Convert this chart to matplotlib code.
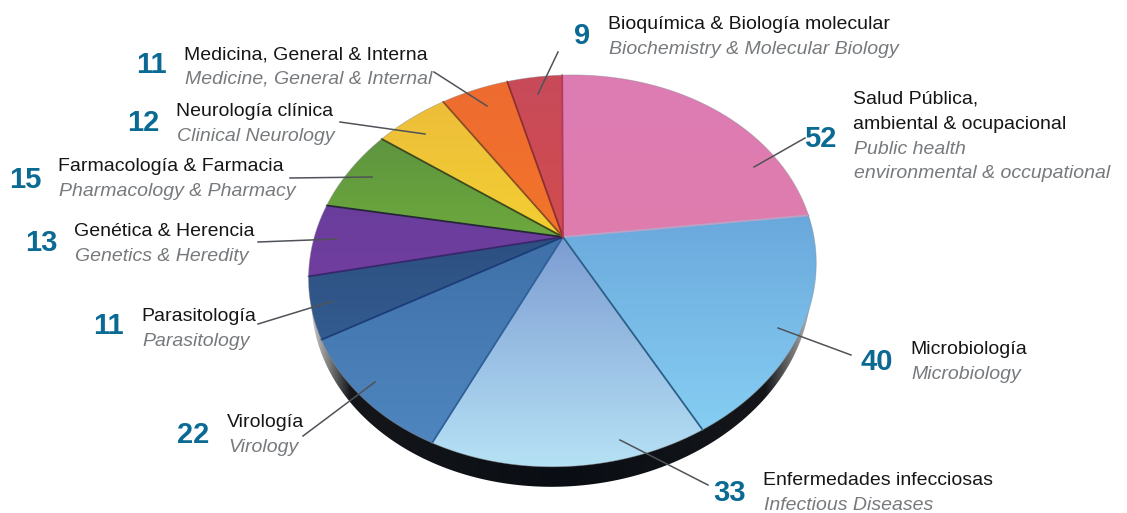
import numpy as np
import matplotlib
matplotlib.use("Agg")
import matplotlib.pyplot as plt
from matplotlib.patches import Polygon
from matplotlib.colors import LinearSegmentedColormap, to_rgb

values = [52, 40, 33, 22, 11, 13, 15, 12, 11, 9]
names_es = ["Salud Pública,\nambiental & ocupacional", "Microbiología", "Enfermedades infecciosas",
            "Virología", "Parasitología", "Genética & Herencia", "Farmacología & Farmacia",
            "Neurología clínica", "Medicina, General & Interna", "Bioquímica & Biología molecular"]
names_en = ["Public health\nenvironmental & occupational", "Microbiology", "Infectious Diseases",
            "Virology", "Parasitology", "Genetics & Heredity", "Pharmacology & Pharmacy",
            "Clinical Neurology", "Medicine, General & Internal", "Biochemistry & Molecular Biology"]
top_colors = ["#DD7DB4", "#6AA8DC", "#7C9CD2", "#3F70A8", "#2C4F80", "#6A3E9C", "#5E9440", "#EDBE3A", "#EE6B30", "#C84A5A"]
bot_colors = ["#E07CAE", "#86CEF3", "#B6E2F5", "#4F86BF", "#345C90", "#703D9E", "#6CA93C", "#F3CF32", "#F2742A", "#D14C4E"]
edge_colors = ["#B9A2C6", "#2C6088", "#2F6098", "#1B3C78", "#37286C", "#26263A", "#3E4A1E", "#8C4E22", "#8E3030", "#B23A5A"]
name_xy = [(853, 104), (910, 354), (763, 485), (227, 427), (141, 321), (74, 236), (58, 171), (176, 116), (184, 59), (608, 29)]
num_xy = [(820, 139), (877, 362), (730, 493), (193, 435), (108, 326), (41, 243), (25, 180), (143, 123), (151, 65), (582, 36)]
lead_a = [(805, 138), (851, 355), (708, 485), (303, 436), (258, 324), (258, 242), (290, 178), (340, 122), (434, 72), (558, 52)]
lead_b = [(754, 167), (778, 328), (620, 440), (375, 382), (333, 301), (337, 239), (372, 177), (425, 134), (487, 106), (538, 94)]

CX, CY, RX, RY, K = 563, 237, 250, 190, 0.173
SHEAR_X, SHEAR_Y = 0.018, 0.02
START = 91.0
RIM_DY = 20


def project(theta):
    x, y = np.cos(theta), np.sin(theta)
    w = 1 + K * y
    sx, sy = RX * x / w, -RY * y / w
    return CX + sx - SHEAR_X * sy, CY + sy - SHEAR_Y * sx


plt.rcParams['font.family'] = ['Liberation Sans', 'DejaVu Sans']
fig = plt.figure(figsize=(11.27, 5.13), dpi=100)
ax = fig.add_axes([0, 0, 1, 1])
ax.set_xlim(0, 1127)
ax.set_ylim(513, 0)
ax.axis("off")

# dark rim below the disc
full = np.linspace(0, 2 * np.pi, 720)
fx, fy = project(full)
rim = Polygon(np.c_[CX + (fx - CX) * 0.985 - 1, fy + RIM_DY], closed=True, fc="none", ec="none")
ax.add_patch(rim)
rim_cmap = LinearSegmentedColormap.from_list(
    "rim", [(0, "#D0D0D0"), (0.03, "#909090"), (0.08, "#14161A"), (0.5, "#0A0E14"),
            (0.9, "#14161A"), (0.96, "#808080"), (1, "#D0D0D0")])
im = ax.imshow(np.linspace(0, 1, 256)[None, :], cmap=rim_cmap, extent=(fx.min(), fx.max(), 513, 0),
               aspect="auto", zorder=1)
im.set_clip_path(rim)

# wedges
angles = START - np.cumsum([0] + values) / sum(values) * 360
for i in range(len(values)):
    t = np.radians(np.linspace(angles[i], angles[i + 1], 80))
    px, py = project(t)
    pts = np.vstack([[CX, CY], np.c_[px, py]])
    poly = Polygon(pts, closed=True, fc="none", ec="none")
    ax.add_patch(poly)
    c0, c1 = np.array(to_rgb(top_colors[i])), np.array(to_rgb(bot_colors[i]))
    ramp = np.linspace(0, 1, 128)[:, None, None]
    img = (c0 * (1 - ramp) + c1 * ramp)
    y0, y1 = pts[:, 1].min(), pts[:, 1].max()
    x0, x1 = pts[:, 0].min(), pts[:, 0].max()
    im = ax.imshow(img, extent=(x0 - 1, x1 + 1, y1 + 1, y0 - 1), aspect="auto", zorder=2)
    im.set_clip_path(poly)

for i in range(len(values)):
    ex, ey = project(np.radians(angles[i + 1]))
    ax.plot([CX, ex], [CY, ey], color=edge_colors[i], lw=1.3, zorder=3, solid_capstyle="round")
ax.plot(fx, fy, color="#8C8C8C", lw=0.6, alpha=0.5, zorder=3)
ax.set_xlim(0, 1127)
ax.set_ylim(513, 0)

# leaders and labels
for i in range(len(values)):
    ax.plot([lead_a[i][0], lead_b[i][0]], [lead_a[i][1], lead_b[i][1]], color="#4F5358", lw=1.1, zorder=4)
    ax.text(*num_xy[i], str(values[i]), fontsize=21, fontweight="bold", color="#0B6A93",
            ha="center", va="center", zorder=5)
    xn, yn = name_xy[i]
    for j, line in enumerate(names_es[i].split("\n")):
        ax.text(xn, yn + 25 * j, line, fontsize=14, color="#161616", ha="left", va="baseline", zorder=5)
    nes = len(names_es[i].split("\n"))
    for j, line in enumerate(names_en[i].split("\n")):
        ax.text(xn + 1, yn + 25 * (nes + j) - j, line, fontsize=14, style="italic", color="#777A7D",
                ha="left", va="baseline", zorder=5)

fig.savefig("out.png", dpi=100, facecolor="white")
